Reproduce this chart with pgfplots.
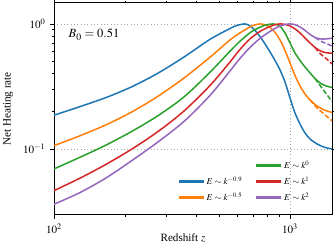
\documentclass[border=0pt]{standalone}
\usepackage{mathptmx}
\usepackage[no-math]{fontspec}
\setmainfont{Liberation Serif}
\usepackage{pgfplots}
\pgfplotsset{compat=1.18}
\definecolor{tabblue}{HTML}{1F77B4}
\definecolor{taborange}{HTML}{FF7F0E}
\definecolor{tabgreen}{HTML}{2CA02C}
\definecolor{tabred}{HTML}{D62728}
\definecolor{tabpurple}{HTML}{9467BD}
\begin{document}
\begin{tikzpicture}
\begin{axis}[
  scale only axis,
  width=200.2pt, height=152.9pt,
  xmode=log, ymode=log,
  xmin=100, xmax=1507, ymin=0.02965, ymax=1.48,
  tick align=outside,
  major tick length=2.6pt, minor tick length=1.5pt,
  every tick/.style={black, line width=0.5pt},
  xtick={100,1000}, ytick={0.1,1},
  xticklabels={$10^{2}$,$10^{3}$},
  yticklabels={$10^{-1}$,$10^{0}$},
  ticklabel style={font=\fontsize{8}{9.6}\selectfont},
  grid=major,
  major grid style={dotted, gray!70, line width=0.5pt},
  axis line style={line width=0.7pt},
  xlabel={Redshift $z$},
  ylabel={Net Heating rate},
  label style={font=\fontsize{8}{9.6}\selectfont},
  xlabel style={at={(axis description cs:0.464,-0.126)}, anchor=base},
  ylabel style={at={(axis description cs:-0.165,0.5)}, anchor=center},
  legend columns=2,
  legend cell align=left,
  legend image code/.code={\fill[#1] (0pt,-0.55pt) rectangle (17pt,0.55pt);},
  legend style={draw=none, fill=none, at={(axis description cs:0.945,0.03)}, anchor=south east,
    font=\fontsize{6.5}{7.5}\selectfont, row sep=0.5pt,
    /tikz/every even column/.append style={column sep=8pt}},
  every axis plot/.append style={line width=1.1pt},
]
\addplot[tabblue, smooth, forget plot] coordinates {
(100,0.1861) (128.9,0.2181) (166.1,0.2577) (214.1,0.3150) (275.9,0.4041) (355.5,0.5434)
(458.2,0.7530) (557.0,0.9188) (596.4,0.9727) (644.9,1.0) (676.9,0.9638) (710.7,0.8872)
(746.4,0.7943) (783.7,0.6918) (822.8,0.5970) (864.0,0.5105) (907.2,0.4285) (952.4,0.3436)
(1000,0.2559) (1050.0,0.1941) (1102.4,0.1585) (1157.5,0.1343) (1215.8,0.1202)
(1301.7,0.1096) (1407.3,0.1028) (1506.5,0.1)};
\addplot[taborange, smooth, forget plot] coordinates {
(100,0.1063) (128.9,0.1275) (166.1,0.1559) (214.1,0.1981) (275.9,0.2640) (355.5,0.3692)
(458.2,0.5414) (557.0,0.7447) (614.0,0.8472) (676.9,0.9462) (710.7,0.9817) (746.4,1.0)
(783.7,0.9854) (822.8,0.9376) (864.0,0.8551) (907.2,0.7447) (952.4,0.6138) (1000,0.4875)
(1050.0,0.3873) (1102.4,0.3192) (1157.5,0.2754) (1215.8,0.2466) (1301.7,0.2208)
(1393.6,0.2051) (1506.5,0.1959)};
\addplot[tabgreen, smooth, forget plot] coordinates {
(100,0.0692) (128.9,0.0858) (166.1,0.1074) (214.1,0.1385) (275.9,0.1846) (355.5,0.2606)
(458.2,0.4108) (557.0,0.6047) (614.0,0.7272) (676.9,0.8503) (710.7,0.8986) (746.4,0.9410)
(783.7,0.9763) (822.8,0.9945) (847.3,1.0) (889.7,0.982) (907.2,0.9638) (952.4,0.8472)
(1000,0.7047) (1050.0,0.5861) (1102.4,0.5105) (1157.5,0.4529) (1215.8,0.4055)
(1276.2,0.3664) (1340.3,0.3373) (1420.8,0.3192) (1506.5,0.3105)};
\addplot[tabred, smooth, forget plot] coordinates {
(100,0.0464) (128.9,0.0584) (166.1,0.0753) (214.1,0.1) (275.9,0.1378) (355.5,0.2010)
(458.2,0.3215) (557.0,0.4966) (614.0,0.6252) (676.9,0.7586) (746.4,0.8710) (822.8,0.9550)
(864.0,0.9854) (907.2,1.0) (952.4,0.9908) (1000,0.9638) (1050.0,0.9120) (1102.4,0.8472)
(1157.5,0.7727) (1215.8,0.7047) (1276.2,0.6486) (1340.3,0.6103) (1420.8,0.5883)
(1506.5,0.5829)};
\addplot[tabpurple, smooth, forget plot] coordinates {
(100,0.0361) (128.9,0.0448) (166.1,0.0586) (214.1,0.0809) (275.9,0.1138) (355.5,0.1660)
(458.2,0.2679) (557.0,0.4207) (614.0,0.5297) (676.9,0.6486) (746.4,0.7656) (822.8,0.8710)
(889.7,0.9462) (952.4,0.989) (1000,1.0) (1050.0,0.9872) (1102.4,0.9462) (1157.5,0.8872)
(1215.8,0.8241) (1276.2,0.7798) (1340.3,0.7586) (1420.8,0.7586) (1506.5,0.7686)};
% dashed branches
\addplot[taborange, smooth, dash pattern=on 3.5pt off 1.6pt, forget plot] coordinates {
(1215.8,0.2466) (1301.7,0.2128) (1393.6,0.1905) (1506.5,0.1675)};
\addplot[tabgreen, smooth, dash pattern=on 3.5pt off 1.6pt, forget plot] coordinates {
(1276.2,0.3664) (1340.3,0.3221) (1420.8,0.2780) (1506.5,0.2399)};
\addplot[tabred, smooth, dash pattern=on 3.5pt off 1.6pt, forget plot] coordinates {
(1276.2,0.6486) (1340.3,0.5808) (1420.8,0.5297) (1506.5,0.4786)};
\addplot[tabpurple, smooth, dash pattern=on 3.5pt off 1.6pt, forget plot] coordinates {
(1276.2,0.7798) (1340.3,0.7338) (1420.8,0.6982) (1506.5,0.6668)};
% legend
\addlegendimage{empty legend}\addlegendentry{}
\addlegendimage{tabgreen}\addlegendentry{$E\sim k^{0}$}
\addlegendimage{tabblue}\addlegendentry{$E\sim k^{-0.9}$}
\addlegendimage{tabred}\addlegendentry{$E\sim k^{1}$}
\addlegendimage{taborange}\addlegendentry{$E\sim k^{-0.5}$}
\addlegendimage{tabpurple}\addlegendentry{$E\sim k^{2}$}
\node[anchor=west, font=\fontsize{9}{10.5}\selectfont] at (axis cs:110,0.817) {$B_0=0.51$};
\coordinate (bl) at (rel axis cs:0,0);
\coordinate (tr) at (rel axis cs:1,1);
\end{axis}
\pgfresetboundingbox
\path ([xshift=-38.9pt,yshift=-25.2pt]bl) rectangle ([xshift=1.44pt,yshift=1.9pt]tr);
\end{tikzpicture}
\end{document}
